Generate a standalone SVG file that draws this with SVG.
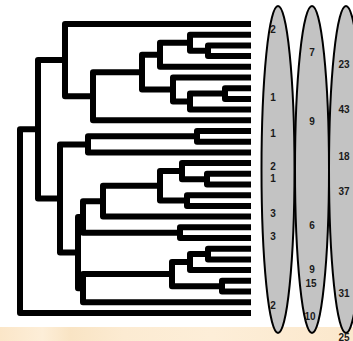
<svg xmlns="http://www.w3.org/2000/svg" width="353" height="341" viewBox="0 0 353 341">
<defs>
<linearGradient id="beige" x1="0" y1="0" x2="1" y2="0">
<stop offset="0" stop-color="#fbe6c8"/>
<stop offset="0.12" stop-color="#fdeed8"/>
<stop offset="0.2" stop-color="#f9e4c4"/>
<stop offset="0.35" stop-color="#fcebd2"/>
<stop offset="0.6" stop-color="#fdeed8"/>
<stop offset="1" stop-color="#fbe8cc"/>
</linearGradient>
<style>
.br{fill:none;stroke:#000;stroke-width:6;stroke-linejoin:round;stroke-linecap:butt}
.el{fill:#c3c3c3;stroke:#000;stroke-width:2}
.n{font-family:"Liberation Sans",Arial,sans-serif;font-size:10px;font-weight:bold;fill:#1a1a1a;text-anchor:middle}
</style>
</defs>
<rect width="353" height="341" fill="#fff"/>
<rect x="0" y="327" width="353" height="14" fill="url(#beige)"/>
<g id="connectors">
<path class="br" d="M38 129.3H20V312.9H251"/>
<path class="br" d="M65 60.1H38V198.5H60"/>
<path class="br" d="M251 24H65V96.2H93"/>
<path class="br" d="M142 72.2H93V120.3H251"/>
<path class="br" d="M160 54.8H142V89.5H173"/>
<path class="br" d="M190 42.7H160V66.8H251"/>
<path class="br" d="M251 34.7H190V50.75H208"/>
<path class="br" d="M251 45.4H208V56.1H251"/>
<path class="br" d="M251 77.5H173V101.6H190"/>
<path class="br" d="M225 93.55H190V109.6H251"/>
<path class="br" d="M251 88.2H225V98.9H251"/>
<path class="br" d="M88 144.4H60V252.5H78"/>
<path class="br" d="M197 136.35H88V152.4H251"/>
<path class="br" d="M251 131H197V141.7H251"/>
<path class="br" d="M83 216.9H78V288.2H83"/>
<path class="br" d="M103 201.2H83V232.65H180"/>
<path class="br" d="M160 185.8H103V216.6H251"/>
<path class="br" d="M182 171.1H160V200.55H187"/>
<path class="br" d="M251 163.1H182V179.15H207"/>
<path class="br" d="M251 173.8H207V184.5H251"/>
<path class="br" d="M251 195.2H187V205.9H251"/>
<path class="br" d="M251 227.3H180V238H251"/>
<path class="br" d="M172 274.1H83V302.2H251"/>
<path class="br" d="M190 262.1H172V286.15H222"/>
<path class="br" d="M208 254.05H190V270.1H251"/>
<path class="br" d="M251 248.7H208V259.4H251"/>
<path class="br" d="M251 280.8H222V291.5H251"/>
</g>
<g id="ellipse1">
<ellipse class="el" cx="278" cy="169.5" rx="16.5" ry="163.5"/>
<text class="n" x="273" y="32.6">2</text>
<text class="n" x="273" y="100.6">1</text>
<text class="n" x="273" y="136.6">1</text>
<text class="n" x="273" y="170.3">2</text>
<text class="n" x="273" y="181.6">1</text>
<text class="n" x="273" y="216.6">3</text>
<text class="n" x="273" y="239.6">3</text>
<text class="n" x="273" y="308.6">2</text>
</g>
<g id="ellipse2">
<ellipse class="el" cx="312" cy="169.5" rx="17" ry="163.5"/>
<text class="n" x="312" y="55.6">7</text>
<text class="n" x="312" y="124.6">9</text>
<text class="n" x="312" y="228.6">6</text>
<text class="n" x="312" y="272.6">9</text>
<text class="n" x="311" y="286.6">15</text>
<text class="n" x="310" y="319.6">10</text>
</g>
<g id="ellipse3">
<ellipse class="el" cx="346" cy="169.5" rx="17" ry="163.5"/>
<text class="n" x="344" y="67.6">23</text>
<text class="n" x="344" y="112.6">43</text>
<text class="n" x="344" y="159.6">18</text>
<text class="n" x="344" y="194.6">37</text>
<text class="n" x="344" y="296.6">31</text>
<text class="n" x="344" y="340.5">25</text>
</g>
</svg>
